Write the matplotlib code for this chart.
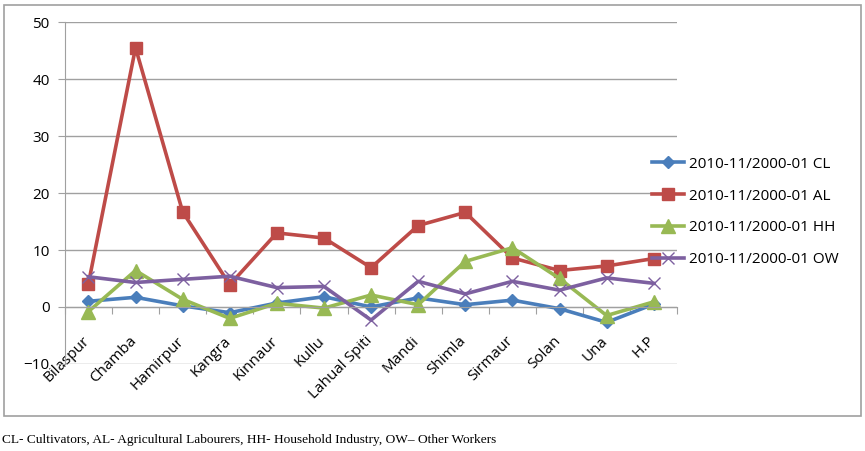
import matplotlib.pyplot as plt
import matplotlib.transforms as mtransforms
from matplotlib.patches import Rectangle

districts = ['Bilaspur', 'Chamba', 'Hamirpur', 'Kangra', 'Kinnaur', 'Kullu',
             'Lahual Spiti', 'Mandi', 'Shimla', 'Sirmaur', 'Solan', 'Una', 'H.P']
cl = [1.0, 1.7, 0.2, -1.0, 0.7, 1.8, 0.0, 1.6, 0.4, 1.2, -0.3, -2.7, 0.5]
al = [4.1, 45.5, 16.7, 3.9, 13.0, 12.1, 6.9, 14.3, 16.6, 8.6, 6.4, 7.2, 8.5]
hh = [-0.8, 6.4, 1.35, -2.0, 0.65, -0.2, 2.1, 0.4, 8.0, 10.4, 5.0, -1.5, 0.9]
ow = [5.3, 4.3, 4.85, 5.4, 3.4, 3.6, -2.3, 4.5, 2.3, 4.5, 2.95, 5.1, 4.15]

series_names = ['2010-11/2000-01 CL', '2010-11/2000-01 AL',
                '2010-11/2000-01 HH', '2010-11/2000-01 OW']
footnote = 'CL- Cultivators, AL- Agricultural Labourers, HH- Household Industry, OW\u2013 Other Workers'

plt.rcParams['font.family'] = ['Open Sans', 'DejaVu Sans']

fig = plt.figure(figsize=(8.65, 4.51), dpi=100)
ax = fig.add_axes([0.075, 0.193, 0.708, 0.758])

x = range(len(districts))
ax.plot(x, cl, color='#4A7EBB', lw=2.6, marker='D', ms=6.5, label=series_names[0])
ax.plot(x, al, color='#BE4B48', lw=2.6, marker='s', ms=9, label=series_names[1])
ax.plot(x, hh, color='#98B954', lw=2.6, marker='^', ms=9.5, label=series_names[2])
ax.plot(x, ow, color='#7D60A0', lw=2.6, marker='x', ms=8, mew=1.0, label=series_names[3])

ax.set_xlim(-0.5, len(districts) - 0.5)
ax.set_ylim(-10, 50)
ax.set_yticks(range(-10, 51, 10))
ax.yaxis.grid(True, color='#A0A0A0', lw=1)
ax.set_axisbelow(True)

for s in ['top', 'right']:
    ax.spines[s].set_visible(False)
ax.spines['left'].set_color('#A0A0A0')
ax.spines['bottom'].set_color('#A0A0A0')
ax.spines['bottom'].set_position(('data', 0))

ax.set_xticks([i - 0.5 for i in range(len(districts) + 1)], minor=False)
ax.set_xticklabels([])
ax.set_xticks(list(x), minor=True)
ax.set_xticklabels(districts, minor=True, rotation=45, ha='right', va='top',
                   fontsize=11)
ax.tick_params(axis='x', which='major', direction='out', length=5, color='#A0A0A0')
ax.tick_params(axis='x', which='minor', length=0, pad=19)
ax.tick_params(axis='y', direction='out', length=5, color='#A0A0A0',
               labelsize=11, pad=6)

# nudge the rotated labels a little to the right, as in the original
shift = mtransforms.ScaledTranslation(4 / 100, 0, fig.dpi_scale_trans)
for lab in ax.get_xticklabels(minor=True):
    lab.set_transform(lab.get_transform() + shift)

ax.legend(loc='upper left', bbox_to_anchor=(0.738, 0.683),
          bbox_transform=fig.transFigure, frameon=False, fontsize=11,
          handlelength=2.1, labelspacing=1.1, handletextpad=0.3)

fig.patches.append(Rectangle((4 / 865, 1 - 416 / 451), 857 / 865, 411 / 451,
                             transform=fig.transFigure, fill=False,
                             edgecolor='#A0A0A0', lw=1.2))
fig.text(2 / 865, 1 - 440 / 451, footnote, fontsize=9.6,
         family='Liberation Serif', va='center', ha='left')

fig.savefig('out.png', dpi=100)
